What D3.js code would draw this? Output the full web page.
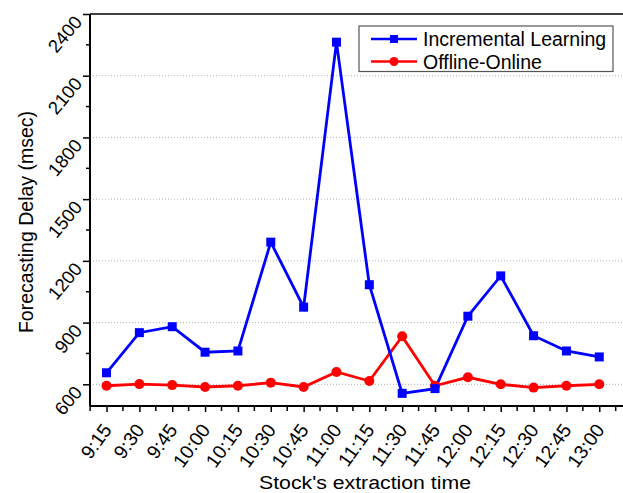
<!DOCTYPE html>
<html>
<head>
<meta charset="utf-8">
<script src="https://cdn.jsdelivr.net/npm/d3@7"></script>
<style>
  html, body { margin: 0; padding: 0; background: #fff; }
  svg { display: block; font-family: "Liberation Sans", Arial, sans-serif; }
  svg text { fill: #000; }
</style>
</head>
<body>
<svg id="chart" width="623" height="493"></svg>
<script>
const categories = ["9:15","9:30","9:45","10:00","10:15","10:30","10:45","11:00","11:15","11:30","11:45","12:00","12:15","12:30","12:45","13:00"];
const incremental = [656, 851, 880, 756, 762, 1291, 975, 2263, 1084, 556, 579, 931, 1127, 836, 762, 733];
const offlineOnline = [593, 601, 596, 587, 593, 608, 587, 660, 616, 833, 593, 634, 600, 584, 593, 600];
const yTicks = [600, 900, 1200, 1500, 1800, 2100, 2400];
const yMinorTicks = [750, 1050, 1350, 1650, 1950, 2250];
const seriesNames = ["Incremental Learning", "Offline-Online"];

(function () {
const svg = d3.select("#chart");
const pLeft = 90, pRight = 623, pTop = 14, pBottom = 406;

const x = d3.scaleLinear().domain([-0.5, 15.5]).range([90.1, 615.7]);
const y = d3.scaleLinear().domain([600, 2400]).range([384.3, 14]);

// gridlines
svg.append("g").selectAll("line").data(yTicks.filter(v => v < 2400)).join("line")
  .attr("x1", pLeft).attr("x2", pRight)
  .attr("y1", d => y(d)).attr("y2", d => y(d))
  .attr("stroke", "#b0b0b0").attr("stroke-width", 1)
  .attr("stroke-dasharray", "1,2");

// top frame
svg.append("line").attr("x1", pLeft).attr("x2", pRight).attr("y1", pTop).attr("y2", pTop)
  .attr("stroke", "#000").attr("stroke-width", 1.5);

// y axis
const yAxis = d3.axisLeft(y).tickValues(yTicks).tickSize(7).tickFormat(d3.format("d"));
const gy = svg.append("g").attr("transform", `translate(${pLeft},0)`).call(yAxis);
gy.select(".domain").remove();
gy.selectAll(".tick line").attr("stroke-width", 1.5);
gy.selectAll(".tick text")
  .attr("font-size", 18.5).attr("fill", "#000")
  .attr("text-anchor", "end")
  .attr("x", 0).attr("dy", 0)
  .attr("transform", "translate(-7,8) rotate(-50)");
svg.append("g").selectAll("line").data(yMinorTicks).join("line")
  .attr("x1", pLeft - 4).attr("x2", pLeft)
  .attr("y1", d => y(d)).attr("y2", d => y(d))
  .attr("stroke", "#000").attr("stroke-width", 1.5);
svg.append("line").attr("x1", pLeft).attr("x2", pLeft).attr("y1", pTop).attr("y2", pBottom)
  .attr("stroke", "#000").attr("stroke-width", 2);

// x axis
const xAxis = d3.axisBottom(x).tickValues(d3.range(categories.length)).tickSize(6)
  .tickFormat(i => categories[i]);
const gx = svg.append("g").attr("transform", `translate(0,${pBottom})`).call(xAxis);
gx.select(".domain").remove();
gx.selectAll(".tick line").attr("stroke-width", 1.5);
gx.selectAll(".tick text")
  .attr("font-size", 19.3).attr("fill", "#000")
  .attr("text-anchor", "end")
  .attr("y", 0).attr("dy", 0)
  .attr("transform", "translate(5.5,24) rotate(-54)");
svg.append("g").selectAll("line").data(d3.range(-0.5, 16, 1)).join("line")
  .attr("x1", d => x(d)).attr("x2", d => x(d))
  .attr("y1", pBottom).attr("y2", pBottom + 5)
  .attr("stroke", "#000").attr("stroke-width", 1.5);
svg.append("line").attr("x1", pLeft).attr("x2", pRight).attr("y1", pBottom).attr("y2", pBottom)
  .attr("stroke", "#000").attr("stroke-width", 2);

// axis titles
svg.append("text").attr("transform", "translate(33,222) rotate(-90)")
  .attr("text-anchor", "middle").attr("font-size", 19.5).text("Forecasting Delay (msec)");
svg.append("text").attr("transform", "translate(365,489) scale(1.12,1)")
  .attr("text-anchor", "middle").attr("font-size", 19).text("Stock's extraction time");

// lines
const line = d3.line().x((d, i) => x(i)).y(d => y(d));
svg.append("path").datum(offlineOnline).attr("d", line)
  .attr("fill", "none").attr("stroke", "#ff0000").attr("stroke-width", 2.8);
svg.append("path").datum(incremental).attr("d", line)
  .attr("fill", "none").attr("stroke", "#0000ff").attr("stroke-width", 2.8);

svg.append("g").selectAll("circle").data(offlineOnline).join("circle")
  .attr("cx", (d, i) => x(i)).attr("cy", d => y(d)).attr("r", 5)
  .attr("fill", "#ff0000");
svg.append("g").selectAll("rect").data(incremental).join("rect")
  .attr("x", (d, i) => x(i) - 4.5).attr("y", d => y(d) - 4.5)
  .attr("width", 9).attr("height", 9).attr("fill", "#0000ff");

// legend
const lg = svg.append("g");
lg.append("rect").attr("x", 359).attr("y", 26).attr("width", 254).attr("height", 45.5)
  .attr("fill", "#fff").attr("stroke", "#555").attr("stroke-width", 1.2);
const rows = [{name: seriesNames[0], color: "#0000ff", shape: "square", cy: 39},
              {name: seriesNames[1], color: "#ff0000", shape: "circle", cy: 61.5}];
rows.forEach(r => {
  lg.append("line").attr("x1", 371).attr("x2", 417).attr("y1", r.cy).attr("y2", r.cy)
    .attr("stroke", r.color).attr("stroke-width", 2.6);
  if (r.shape === "square") {
    lg.append("rect").attr("x", 394 - 4).attr("y", r.cy - 4).attr("width", 8).attr("height", 8).attr("fill", r.color);
  } else {
    lg.append("circle").attr("cx", 394).attr("cy", r.cy).attr("r", 4.5).attr("fill", r.color);
  }
  lg.append("text").attr("x", 423).attr("y", r.cy + 7).attr("font-size", 19.5).text(r.name);
});
})();
</script>
</body>
</html>
